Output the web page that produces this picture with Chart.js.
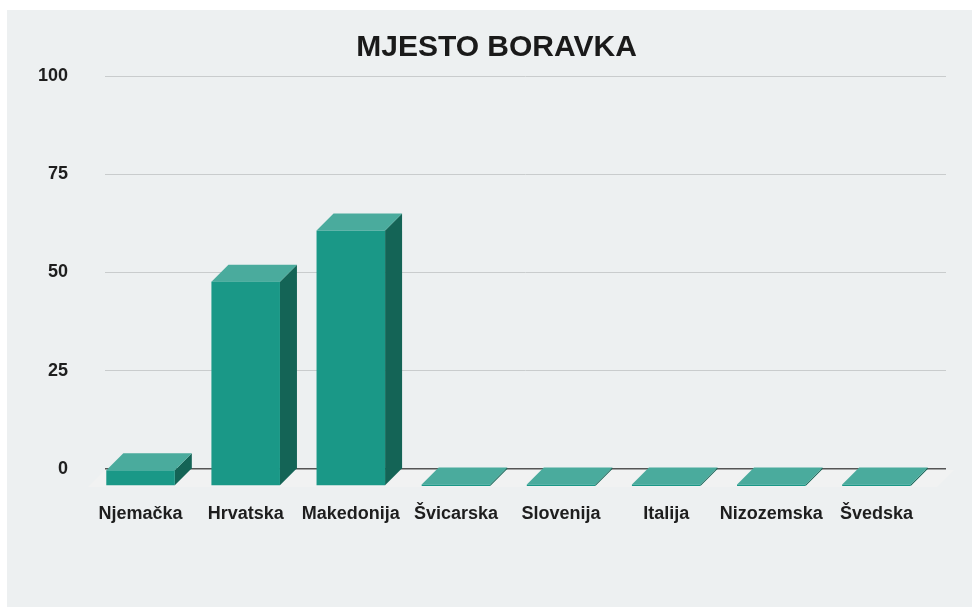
<!DOCTYPE html>
<html lang="hr">
<head>
  <meta charset="UTF-8" />
  <title>Mjesto boravka</title>
  <script src="https://cdn.jsdelivr.net/npm/chart.js"></script>
  <style>
    body { margin: 0; background: #fff; overflow: hidden; }
    #chart { position: absolute; left: 7px; top: 10px; background: #edf0f1; }
  </style>
</head>
<body>
  <canvas id="chart" width="979" height="597"></canvas>

  <script>
    // podaci
    const categories = ['Njemačka', 'Hrvatska', 'Makedonija', 'Švicarska', 'Slovenija', 'Italija', 'Nizozemska', 'Švedska'];
    const values = [4, 52, 65, 0, 0, 0, 0, 0];
    const yTicks = [0, 25, 50, 75, 100];

    const DEPTH = 17; // 3D pomak (px)
    const FRONT = '#1a9887';
    const TOP = '#4aab9d';
    const SIDE = '#146456';

    // pod (floor) ispod osi
    const floorPlugin = {
      id: 'floor',
      beforeDatasetsDraw(chart) {
        const { ctx, chartArea: a } = chart;
        ctx.save();
        ctx.fillStyle = '#f1f2f2';
        ctx.beginPath();
        ctx.moveTo(a.left, a.bottom + 1);
        ctx.lineTo(a.right + 8, a.bottom + 1);
        ctx.lineTo(a.right + 8 - DEPTH, a.bottom + DEPTH + 1);
        ctx.lineTo(a.left - DEPTH, a.bottom + DEPTH + 1);
        ctx.closePath();
        ctx.fill();
        ctx.restore();
      }
    };

    // 3D stupci iz elemenata koje računa Chart.js
    const bars3d = {
      id: 'bars3d',
      afterDatasetsDraw(chart) {
        const { ctx } = chart;
        const meta = chart.getDatasetMeta(0);
        ctx.save();
        meta.data.forEach(bar => {
          const { x, y, base, width } = bar.getProps(['x', 'y', 'base', 'width'], true);
          const d = DEPTH;
          const xl = x - width / 2 - d;
          const xr = x + width / 2 - d;
          const fbase = base + d;
          const fy = Math.min(y + d, fbase - 1.5);
          const by = fy - d;

          // bok
          ctx.fillStyle = SIDE;
          ctx.beginPath();
          ctx.moveTo(xr, fy);
          ctx.lineTo(xr + d, by);
          ctx.lineTo(xr + d, base);
          ctx.lineTo(xr, fbase);
          ctx.closePath();
          ctx.fill();

          // vrh
          ctx.fillStyle = TOP;
          ctx.beginPath();
          ctx.moveTo(xl, fy);
          ctx.lineTo(xl + d, by);
          ctx.lineTo(xr + d, by);
          ctx.lineTo(xr, fy);
          ctx.closePath();
          ctx.fill();

          // prednja strana
          ctx.fillStyle = FRONT;
          ctx.fillRect(xl, fy, xr - xl, fbase - fy);
        });
        ctx.restore();
      }
    };

    Chart.defaults.font.family = '"Liberation Sans", Arial, sans-serif';
    Chart.defaults.color = '#1e1e1e';

    new Chart(document.getElementById('chart'), {
      type: 'bar',
      data: {
        labels: categories,
        datasets: [{
          data: values,
          backgroundColor: 'rgba(0,0,0,0)',
          barPercentage: 0.652,
          categoryPercentage: 1
        }]
      },
      options: {
        responsive: false,
        animation: false,
        events: [],
        layout: { padding: 0 },
        plugins: {
          legend: { display: false },
          tooltip: { enabled: false },
          title: {
            display: true,
            text: 'MJESTO BORAVKA',
            color: '#1a1a1a',
            font: { size: 30, weight: 'bold' },
            padding: { top: 20, bottom: 10 }
          }
        },
        scales: {
          x: {
            grid: { display: false },
            border: { display: false },
            ticks: {
              labelOffset: -DEPTH,
              padding: 26,
              maxRotation: 0,
              autoSkip: false,
              font: { size: 18, weight: 'bold' }
            },
            afterFit(scale) { scale.height = 138; }
          },
          y: {
            min: 0,
            max: 100,
            afterBuildTicks(scale) { scale.ticks = yTicks.map(v => ({ value: v })); },
            grid: {
              drawTicks: false,
              color: c => c.tick && c.tick.value === 0 ? '#555555' : '#c9cccd',
              lineWidth: c => c.tick && c.tick.value === 0 ? 1.5 : 1
            },
            border: { display: false },
            ticks: {
              padding: 37,
              font: { size: 18, weight: 'bold' }
            },
            afterFit(scale) { scale.width = 98; }
          },
          // prazna desna os, samo za razmak
          yRight: {
            type: 'linear',
            position: 'right',
            grid: { display: false },
            border: { display: false },
            ticks: { display: false },
            afterFit(scale) { scale.width = 40; }
          }
        }
      },
      plugins: [floorPlugin, bars3d]
    });
  </script>
</body>
</html>
